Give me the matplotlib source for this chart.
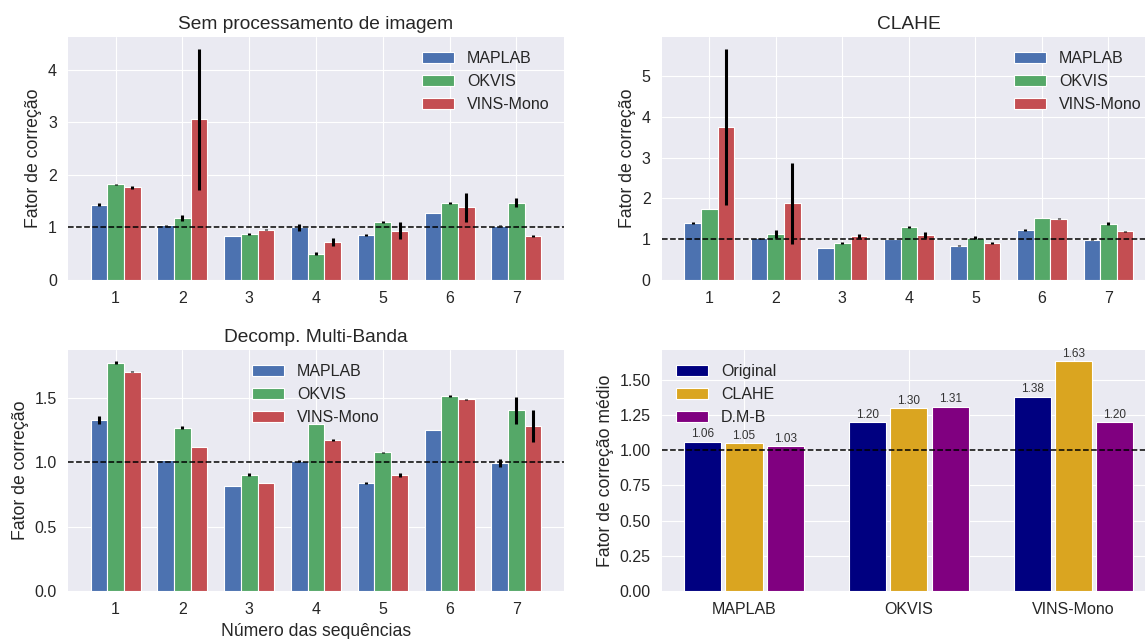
import matplotlib
matplotlib.use('Agg')
import matplotlib.pyplot as plt
from matplotlib.ticker import MultipleLocator
import numpy as np

plt.style.use('seaborn-v0_8-darkgrid')
plt.rcParams['font.family'] = ['Liberation Sans', 'DejaVu Sans']
plt.rcParams['xtick.labelsize'] = 11.5
plt.rcParams['ytick.labelsize'] = 11.5
plt.rcParams['xtick.major.pad'] = 8
plt.rcParams['ytick.major.pad'] = 8

sequencias = [1, 2, 3, 4, 5, 6, 7]
metodos = ['MAPLAB', 'OKVIS', 'VINS-Mono']
cores = ['#4C72B0', '#55A868', '#C44E52']

# Sem processamento de imagem
sem_maplab = [1.43, 1.045, 0.83, 1.00, 0.85, 1.27, 1.03]
sem_maplab_err = [0.03, 0.01, 0.0, 0.06, 0.02, 0.0, 0.01]
sem_okvis = [1.82, 1.18, 0.88, 0.50, 1.10, 1.47, 1.47]
sem_okvis_err = [0.01, 0.06, 0.02, 0.03, 0.02, 0.02, 0.09]
sem_vins = [1.76, 3.06, 0.955, 0.72, 0.94, 1.38, 0.83]
sem_vins_err = [0.03, 1.34, 0.01, 0.07, 0.165, 0.27, 0.02]

# CLAHE
clahe_maplab = [1.39, 1.02, 0.78, 1.01, 0.84, 1.22, 0.99]
clahe_maplab_err = [0.02, 0.02, 0.0, 0.0, 0.01, 0.02, 0.02]
clahe_okvis = [1.75, 1.13, 0.90, 1.30, 1.04, 1.52, 1.38]
clahe_okvis_err = [0.0, 0.10, 0.02, 0.03, 0.03, 0.0, 0.04]
clahe_vins = [3.75, 1.875, 1.07, 1.10, 0.90, 1.50, 1.19]
clahe_vins_err = [1.92, 0.99, 0.05, 0.07, 0.02, 0.01, 0.01]

# Decomp. Multi-Banda
dmb_maplab = [1.33, 1.02, 0.815, 1.01, 0.84, 1.255, 0.995]
dmb_maplab_err = [0.03, 0.0, 0.0, 0.005, 0.005, 0.0, 0.03]
dmb_okvis = [1.775, 1.27, 0.905, 1.30, 1.08, 1.515, 1.405]
dmb_okvis_err = [0.01, 0.01, 0.01, 0.0, 0.003, 0.01, 0.105]
dmb_vins = [1.705, 1.12, 0.84, 1.175, 0.905, 1.49, 1.28]
dmb_vins_err = [0.005, 0.0, 0.003, 0.01, 0.015, 0.005, 0.125]

# media por metodo
tecnicas = ['Original', 'CLAHE', 'D.M-B']
cores_tec = ['navy', 'goldenrod', 'purple']
media_original = [1.06, 1.20, 1.38]
media_clahe = [1.05, 1.30, 1.63]
media_dmb = [1.03, 1.31, 1.20]

fig = plt.figure(figsize=(11.45, 6.39), dpi=100)
ax1 = fig.add_axes([0.0594, 0.5618, 0.4332, 0.3803])
ax2 = fig.add_axes([0.578, 0.5618, 0.4315, 0.3803])
ax3 = fig.add_axes([0.0594, 0.0751, 0.4332, 0.3772])
ax4 = fig.add_axes([0.578, 0.0751, 0.4315, 0.3772])


def grupo(ax, valores, erros, titulo, loc):
    x = np.array(sequencias)
    offsets = [-0.25, 0.0, 0.25]
    for i in range(3):
        ax.bar(x + offsets[i], valores[i], 0.25, yerr=erros[i], color=cores[i],
               edgecolor='white', linewidth=0.8, label=metodos[i],
               error_kw=dict(ecolor='black', elinewidth=2.2, capsize=0))
    ax.axhline(1, color='black', linestyle='--', linewidth=1.1)
    ax.set_xticks(sequencias)
    ax.set_title(titulo, fontsize=13.8)
    ax.set_ylabel('Fator de correção', fontsize=12.7)
    ax.legend(loc=loc, fontsize=11.5)


grupo(ax1, [sem_maplab, sem_okvis, sem_vins], [sem_maplab_err, sem_okvis_err, sem_vins_err],
      'Sem processamento de imagem', 'upper right')
ax1.yaxis.set_major_locator(MultipleLocator(1))

grupo(ax2, [clahe_maplab, clahe_okvis, clahe_vins], [clahe_maplab_err, clahe_okvis_err, clahe_vins_err],
      'CLAHE', 'upper right')
ax2.yaxis.set_major_locator(MultipleLocator(1))

grupo(ax3, [dmb_maplab, dmb_okvis, dmb_vins], [dmb_maplab_err, dmb_okvis_err, dmb_vins_err],
      'Decomp. Multi-Banda', 'upper center')
ax3.yaxis.set_major_locator(MultipleLocator(0.5))
ax3.set_xlabel('Número das sequências', fontsize=12.7)

x = np.arange(len(metodos))
medias = [media_original, media_clahe, media_dmb]
for i in range(3):
    barras = ax4.bar(x + (i - 1) * 0.25, medias[i], 0.225, color=cores_tec[i],
                     edgecolor='white', linewidth=0.8, label=tecnicas[i])
    ax4.bar_label(barras, fmt='%.2f', fontsize=8.5, padding=1, color='#333333')
ax4.axhline(1, color='black', linestyle='--', linewidth=1.1)
ax4.set_xticks(x)
ax4.set_xticklabels(metodos)
ax4.yaxis.set_major_locator(MultipleLocator(0.25))
ax4.set_ylabel('Fator de correção médio', fontsize=12.7)
ax4.legend(loc='upper left', fontsize=11.5)

plt.savefig('out.png', dpi=100)
